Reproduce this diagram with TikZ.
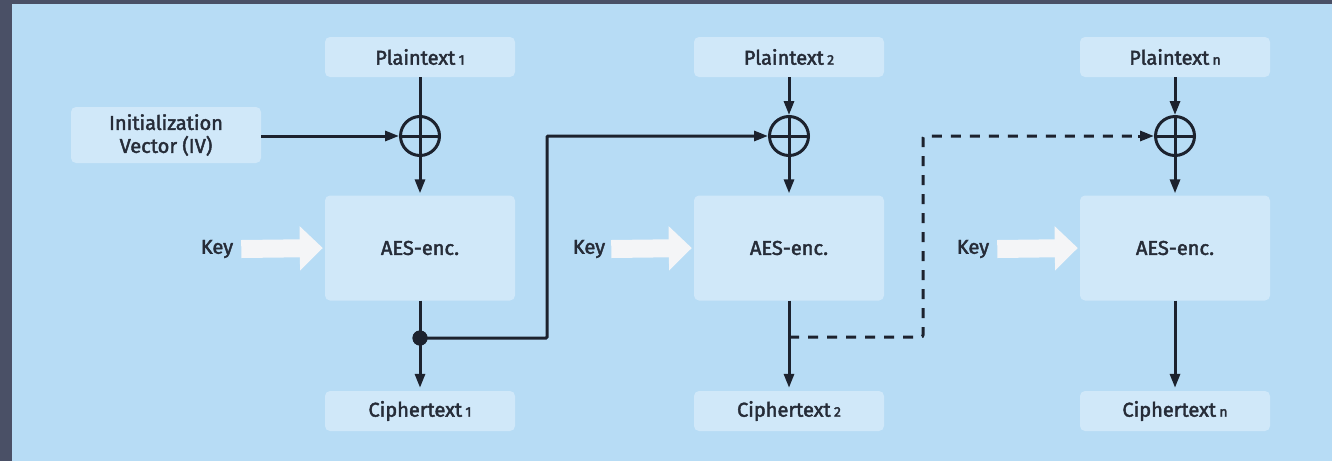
\documentclass[tikz,border=0pt]{standalone}
\usepackage{fontspec}
\setmainfont{Fira Sans}[FakeBold=2.2]
\newfontfamily\lblfont{Fira Sans}[FakeBold=2.2]
\usetikzlibrary{arrows.meta,calc}
\definecolor{frame}{RGB}{74,80,102}
\definecolor{panel}{RGB}{183,220,245}
\definecolor{boxc}{RGB}{208,232,249}
\definecolor{ink}{RGB}{28,34,46}
\definecolor{txt}{RGB}{38,44,56}
\definecolor{keyc}{RGB}{244,245,247}
\newcommand\idx[1]{\,{\fontsize{14}{14}\selectfont #1}}
\begin{document}
\begin{tikzpicture}[x=1pt,y=-1pt,
  box/.style={fill=boxc, rounded corners=5pt, minimum width=190pt, minimum height=40pt, inner sep=0pt, text=txt, font=\lblfont\fontsize{20}{23}\selectfont},
  aesbox/.style={box, minimum height=105pt},
  xorc/.style={circle, draw=ink, line width=3pt, minimum size=39pt, inner sep=0pt},
  conn/.style={draw=ink, line width=3pt},
  arr/.style={conn, -{Triangle[length=14pt,width=10pt]}},
  dashconn/.style={conn, dash pattern=on 10pt off 9pt, rounded corners=2pt},
  keylbl/.style={text=txt, font=\lblfont\fontsize{20}{23}\selectfont, inner sep=0pt},
  keyarrow/.style={draw=keyc, line width=18pt, -{Triangle[length=23pt,width=43pt]}, shorten >=2pt},
  dotc/.style={circle, fill=ink, minimum size=15pt, inner sep=0pt}
]
% background
\fill[frame] (0,0) rectangle (1332,461);
\fill[panel] (12,4) rectangle (1332,461);
\useasboundingbox (0,0) rectangle (1332,461);

% column 1
\node[box] (p1) at (420,57) {Plaintext\idx{1}};
\node[box, minimum height=56pt, align=center, font=\lblfont\fontsize{20}{23}\selectfont] (iv) at (166,135) {Initialization\\Vector (IV)};
\node[xorc] (x1) at (420,136) {};
\node[aesbox] (a1) at (420,248) {AES-enc.};
\node[box] (c1) at (420,411) {Ciphertext\idx{1}};
\node[keylbl] (k1) at (217,249) {Key};
\node[dotc] (dot) at (420,338) {};

% column 2
\node[box] (p2) at (789,57) {Plaintext\idx{2}};
\node[xorc] (x2) at (789,136) {};
\node[aesbox] (a2) at (789,248) {AES-enc.};
\node[box] (c2) at (789,411) {Ciphertext\idx{2}};
\node[keylbl] (k2) at (589,249) {Key};

% column n
\node[box] (pn) at (1175,57) {Plaintext\idx{n}};
\node[xorc] (xn) at (1175,136) {};
\node[aesbox] (an) at (1175,248) {AES-enc.};
\node[box] (cn) at (1175,411) {Ciphertext\idx{n}};
\node[keylbl] (kn) at (973,249) {Key};

% xor crosses
\foreach \x in {x1,x2,xn}{
  \draw[conn] (\x.north) -- (\x.south);
  \draw[conn] (\x.west) -- (\x.east);
}

% key arrows
\draw[keyarrow] ([xshift=8pt]k1.east) -- (a1.west);
\draw[keyarrow] ([xshift=6pt]k2.east) -- (a2.west);
\draw[keyarrow] ([xshift=8pt]kn.east) -- (an.west);

% column 1 connectors
\draw[conn] (p1.south) -- (x1.north);
\draw[arr] (iv.east |- x1.west) -- (x1.west);
\draw[arr, shorten >=2pt] (x1.south) -- (a1.north);
\draw[arr, shorten >=3pt] (a1.south) -- (c1.north);

% feedback 1 -> 2
\coordinate (b1) at (547,136);
\draw[arr, rounded corners=1pt] (dot.center) -| (b1) -- (x2.west);

% column 2 connectors
\draw[arr] (p2.south) -- (x2.north);
\draw[arr, shorten >=2pt] (x2.south) -- (a2.north);
\draw[arr, shorten >=3pt] (a2.south) -- (c2.north);

% dashed feedback 2 -> n
\coordinate (d0) at (789,337);
\coordinate (d1) at (923,136);
\draw[dashconn] (d0) -| (d1) -- ([xshift=-16pt]xn.west);
\draw[arr] ([xshift=-16pt]xn.west) -- (xn.west);

% column n connectors
\draw[arr] (pn.south) -- (xn.north);
\draw[arr, shorten >=2pt] (xn.south) -- (an.north);
\draw[arr, shorten >=3pt] (an.south) -- (cn.north);

\node[dotc] at (dot) {};
\end{tikzpicture}
\end{document}
